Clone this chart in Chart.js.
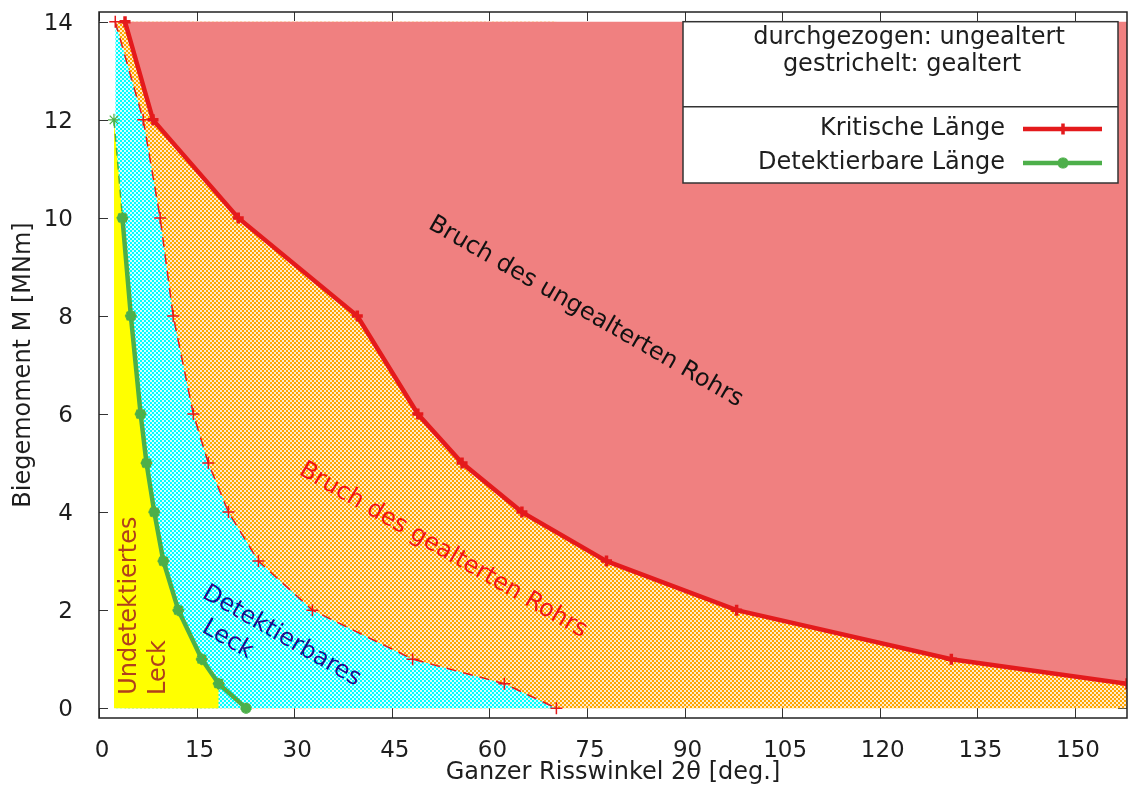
<!DOCTYPE html>
<html lang="de">
<head>
<meta charset="utf-8">
<title>Biegemoment über Risswinkel</title>
<script src="https://cdn.jsdelivr.net/npm/chart.js@4"></script>
<style>
  html, body { margin: 0; padding: 0; background: #ffffff; }
  #wrap { width: 1129px; height: 789px; }
</style>
</head>
<body>
<div id="wrap"><canvas id="chart" width="1129" height="789"></canvas></div>
<script>
// Kritische Risslänge, ungealtert: Biegemoment [MNm] und Risswinkel 2θ [deg.]
const momentCritNew = [14, 12, 10, 8, 6, 5, 4, 3, 2, 1, 0.5];
const angleCritNew  = [4.0, 8.3, 21.4, 39.7, 49.0, 55.8, 65.0, 78.0, 98.0, 131.0, 158.0];

// Kritische Risslänge, gealtert
const momentCritAged = [14, 12, 10, 8, 6, 5, 4, 3, 2, 1, 0.5, 0];
const angleCritAged  = [2.5, 6.8, 9.4, 11.4, 14.5, 16.8, 19.9, 24.5, 32.8, 48.2, 62.3, 70.3];

// Detektierbare Risslänge, ungealtert
const momentDetNew = [10, 8, 6, 5, 4, 3, 2, 1, 0.5, 0];
const angleDetNew  = [3.6, 4.9, 6.4, 7.3, 8.5, 9.9, 12.2, 15.8, 18.4, 22.6];

// Detektierbare Risslänge, gealtert
const momentDetAged = [12, 10, 8, 6, 5, 4, 3, 2, 1, 0.5];
const angleDetAged  = [2.3, 3.6, 4.9, 6.4, 7.3, 8.5, 9.9, 12.2, 15.8, 18.4];

// Achsenteilung
const xTicks = [0, 15, 30, 45, 60, 75, 90, 105, 120, 135, 150];
const yTicks = [0, 2, 4, 6, 8, 10, 12, 14];

const FONT = "'DejaVu Sans', 'Liberation Sans', sans-serif";
const RED = '#e41a1c';
const GREEN = '#4daf4a';
const CORAL = '#f08080';
const INK = '#1e1e1e';

Chart.defaults.font.family = FONT;

function pts(xs, ys) {
  return xs.map((x, i) => ({ x: x, y: ys[i] }));
}

// Karoraster für die schraffierten Bereiche
function hatch(color, light) {
  const c = document.createElement('canvas');
  c.width = c.height = 4;
  const g = c.getContext('2d');
  g.fillStyle = light;
  g.fillRect(0, 0, 4, 4);
  g.fillStyle = color;
  g.fillRect(0, 0, 2, 2);
  g.fillRect(2, 2, 2, 2);
  return g.createPattern(c, 'repeat');
}
const orangeHatch = hatch('#ffa500', '#ffeccc');
const cyanHatch = hatch('#00ffff', '#d2ffff');

function area(data, fill, color, order) {
  return {
    data: data, fill: fill, backgroundColor: color,
    borderColor: 'rgba(0,0,0,0)', borderWidth: 0,
    pointRadius: 0, order: order
  };
}

// Bereichsbeschriftungen (Lage in Datenkoordinaten)
const regionLabels = [
  { text: 'Bruch des ungealterten Rohrs', x: 74.8, y: 8.08, angle: 30, color: '#111111' },
  { text: 'Bruch des gealterten Rohrs', x: 52.9, y: 3.22, angle: 30, color: '#f01414' },
  { text: 'Detektierbares', x: 28.05, y: 1.47, angle: 30, color: '#16168c' },
  { text: 'Leck', x: 19.75, y: 1.40, angle: 30, color: '#16168c' },
  { text: 'Undetektiertes', x: 4.76, y: 2.09, angle: -90, color: '#b0401c' },
  { text: 'Leck', x: 9.22, y: 0.83, angle: -90, color: '#b0401c' }
];

function marker(ctx, style, x, y, r, width, color) {
  ctx.save();
  ctx.strokeStyle = color;
  ctx.lineWidth = width;
  ctx.lineCap = 'butt';
  ctx.beginPath();
  ctx.moveTo(x - r, y); ctx.lineTo(x + r, y);
  ctx.moveTo(x, y - r); ctx.lineTo(x, y + r);
  if (style === 'star') {
    const d = r * Math.SQRT1_2;
    ctx.moveTo(x - d, y - d); ctx.lineTo(x + d, y + d);
    ctx.moveTo(x - d, y + d); ctx.lineTo(x + d, y - d);
  }
  ctx.stroke();
  ctx.restore();
}

// Skalen ohne zusätzlichen Randabstand für überstehende Beschriftungen
function noOverhang(s) {
  s.paddingTop = 0; s.paddingBottom = 0;
  s.paddingLeft = 0; s.paddingRight = 0;
}

const frame = {
  id: 'frame',
  beforeDatasetsDraw(chart) {
    const { ctx, chartArea: a, scales: { x, y } } = chart;
    ctx.save();
    ctx.strokeStyle = '#333333';
    ctx.lineWidth = 1;
    ctx.beginPath();
    xTicks.forEach(v => {
      const px = Math.round(x.getPixelForValue(v)) + 0.5;
      ctx.moveTo(px, a.bottom); ctx.lineTo(px, a.bottom - 10);
      ctx.moveTo(px, a.top); ctx.lineTo(px, a.top + 9);
    });
    yTicks.forEach(v => {
      const py = Math.round(y.getPixelForValue(v)) + 0.5;
      ctx.moveTo(a.left, py); ctx.lineTo(a.left + 9, py);
      ctx.moveTo(a.right, py); ctx.lineTo(a.right - 9, py);
    });
    ctx.stroke();
    ctx.restore();
  },
  afterDatasetsDraw(chart) {
    const { ctx, chartArea: a, scales: { x, y } } = chart;
    ctx.save();
    ctx.font = '24px ' + FONT;
    ctx.textAlign = 'center';
    ctx.textBaseline = 'middle';
    regionLabels.forEach(l => {
      ctx.save();
      ctx.translate(x.getPixelForValue(l.x), y.getPixelForValue(l.y));
      ctx.rotate(l.angle * Math.PI / 180);
      ctx.fillStyle = l.color;
      ctx.fillText(l.text, 0, 0);
      ctx.restore();
    });
    ctx.strokeStyle = '#222222';
    ctx.lineWidth = 1.5;
    ctx.strokeRect(a.left, a.top, a.right - a.left, a.bottom - a.top);
    ctx.restore();
  },
  afterDraw(chart) {
    const { ctx, chartArea: a } = chart;
    const right = a.right - 9, left = right - 435;
    const top = a.top + 9.7, bottom = top + 161.3;
    ctx.save();
    ctx.fillStyle = '#ffffff';
    ctx.fillRect(left, top, right - left, bottom - top);
    ctx.strokeStyle = '#333333';
    ctx.lineWidth = 1.5;
    ctx.strokeRect(left, top, right - left, bottom - top);
    ctx.beginPath();
    ctx.moveTo(left, top + 85); ctx.lineTo(right, top + 85);
    ctx.stroke();

    ctx.fillStyle = INK;
    ctx.font = '24px ' + FONT;
    ctx.textBaseline = 'middle';
    ctx.textAlign = 'center';
    ctx.fillText('durchgezogen: ungealtert', left + 226, top + 16.5);
    ctx.fillText('gestrichelt: gealtert', left + 219, top + 43.5);

    ctx.textAlign = 'right';
    const entries = [
      { text: 'Kritische Länge', color: RED, style: 'cross', dy: 107.3 },
      { text: 'Detektierbare Länge', color: GREEN, style: 'star', dy: 141.3 }
    ];
    entries.forEach(e => {
      const yy = top + e.dy;
      ctx.fillStyle = INK;
      ctx.fillText(e.text, right - 113, yy);
      ctx.strokeStyle = e.color;
      ctx.lineWidth = 4.5;
      ctx.beginPath();
      ctx.moveTo(right - 95, yy); ctx.lineTo(right - 16, yy);
      ctx.stroke();
      marker(ctx, e.style, right - 55, yy, 5.5, 3.5, e.color);
    });
    ctx.restore();
  }
};

const datasets = [
  {
    label: 'Kritische Länge',
    data: pts(angleCritNew, momentCritNew),
    borderColor: RED, backgroundColor: RED, borderWidth: 4.5,
    pointStyle: 'cross', pointRadius: 5.5, pointBorderWidth: 3.5,
    pointBorderColor: RED, fill: false, order: 1
  },
  {
    label: 'Detektierbare Länge',
    data: pts(angleDetNew, momentDetNew),
    borderColor: GREEN, backgroundColor: GREEN, borderWidth: 4.5,
    pointStyle: 'star', pointRadius: 5.5, pointBorderWidth: 3.5,
    pointBorderColor: GREEN, fill: false, order: 2
  },
  {
    label: 'Kritische Länge (gealtert)',
    data: pts(angleCritAged, momentCritAged),
    borderColor: RED, backgroundColor: RED, borderWidth: 1.5, borderDash: [10, 7],
    pointStyle: 'cross', pointRadius: 6, pointBorderWidth: 1.5,
    pointBorderColor: RED, fill: false, order: 3
  },
  {
    label: 'Detektierbare Länge (gealtert)',
    data: pts(angleDetAged, momentDetAged),
    borderColor: GREEN, backgroundColor: GREEN, borderWidth: 1.5, borderDash: [8, 6],
    pointStyle: 'star', pointRadius: 6, pointBorderWidth: 1.2,
    pointBorderColor: GREEN, fill: false, order: 4
  },
  // Flächen, von oben nach unten geschichtet
  area(pts(angleDetAged, momentDetAged), 'origin', '#ffff00', 5),
  area(pts(angleCritAged, momentCritAged), 'origin', cyanHatch, 6),
  area(pts(angleCritNew, momentCritNew), { value: 14 }, CORAL, 7),
  area(pts(angleCritNew, momentCritNew), 'origin', orangeHatch, 8),
  area(pts(angleCritAged, momentCritAged), { value: 14 }, orangeHatch, 9)
];

new Chart(document.getElementById('chart'), {
  type: 'line',
  data: { datasets: datasets },
  options: {
    responsive: false,
    animation: false,
    events: [],
    layout: { autoPadding: false, padding: { top: 12, right: 2, left: 0, bottom: 0 } },
    plugins: {
      legend: { display: false },
      tooltip: { enabled: false },
      filler: { propagate: false }
    },
    scales: {
      x: {
        type: 'linear', min: 0, max: 158,
        grid: { display: false }, border: { display: false },
        afterBuildTicks: s => { s.ticks = xTicks.map(v => ({ value: v })); },
        afterFit: s => { s.height = 71; noOverhang(s); },
        ticks: {
          font: { size: 23 }, color: INK, padding: 11, labelOffset: 3,
          maxRotation: 0, autoSkip: false, callback: v => String(v)
        },
        title: {
          display: true, text: 'Ganzer Risswinkel 2θ [deg.]',
          font: { size: 24 }, color: INK, padding: { top: 0, bottom: 2 }
        }
      },
      y: {
        type: 'linear', min: -0.2, max: 14.2,
        grid: { display: false }, border: { display: false },
        afterBuildTicks: s => { s.ticks = yTicks.map(v => ({ value: v })); },
        afterFit: s => { s.width = 99; noOverhang(s); },
        ticks: {
          font: { size: 23 }, color: INK, padding: 18, labelOffset: 2,
          autoSkip: false, callback: v => String(v)
        },
        title: {
          display: true, text: 'Biegemoment M [MNm]',
          font: { size: 24 }, color: INK, padding: { top: 9, bottom: 0 }
        }
      }
    }
  },
  plugins: [frame]
});
</script>
</body>
</html>
